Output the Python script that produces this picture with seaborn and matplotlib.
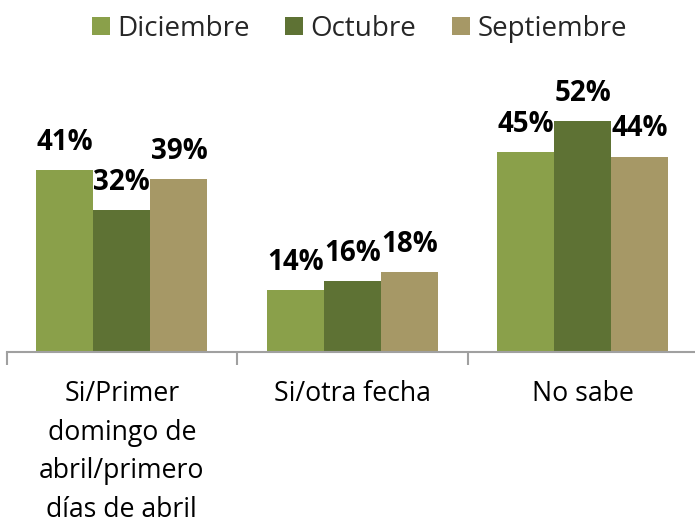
import matplotlib
matplotlib.use("Agg")
import matplotlib.pyplot as plt
import seaborn as sns
import pandas as pd

categories = ["Si/Primer\ndomingo de\nabril/primero\ndías de abril", "Si/otra fecha", "No sabe"]
series = ["Diciembre", "Octubre", "Septiembre"]
diciembre = [41, 14, 45]
octubre = [32, 16, 52]
septiembre = [39, 18, 44]
colors = ["#8AA04A", "#5E7234", "#A69866"]

rows = []
for s, vals in zip(series, [diciembre, octubre, septiembre]):
    for c, v in zip(categories, vals):
        rows.append({"cat": c, "serie": s, "val": v})
df = pd.DataFrame(rows)

sns.set_theme(style="white")
plt.rcParams["font.family"] = ["Open Sans", "DejaVu Sans"]

fig = plt.figure(figsize=(6.95, 5.23), dpi=100)
ax = fig.add_axes([6.6 / 695, 171 / 523, 691.4 / 695, 281 / 523])
sns.barplot(data=df, x="cat", y="val", hue="serie", order=categories,
            hue_order=series, palette=colors, width=0.743, ax=ax,
            saturation=1, legend=True, edgecolor="none", linewidth=0)

ax.set_xlim(-0.5, 2.5)
ax.set_ylim(0, 63.3)
for cont in ax.containers:
    ax.bar_label(cont, labels=[f"{int(v)}%" for v in cont.datavalues],
                 padding=9.5, fontsize=20, fontweight="bold", color="#000000")

for sp in ["top", "left", "right"]:
    ax.spines[sp].set_visible(False)
ax.spines["bottom"].set_color("#A0A0A0")
ax.spines["bottom"].set_linewidth(1.5)
ax.set_yticks([])
ax.set_xlabel("")
ax.set_ylabel("")
ax.set_xticks([0, 1, 2])
ax.set_xticklabels(categories, fontsize=19.2, linespacing=1.5)
ax.tick_params(axis="x", which="major", bottom=False, length=0, pad=20.5, colors="#000000")
ax.set_xticks([-0.5, 0.5, 1.5, 2.5], minor=True)
ax.tick_params(axis="x", which="minor", bottom=True, length=9, width=1.5,
               color="#A0A0A0", direction="out")

handles, labels = ax.get_legend_handles_labels()
ax.legend_.remove()
fig.legend(handles, labels, loc="upper center", bbox_to_anchor=(0.517, 1.02),
           ncol=3, frameon=False, fontsize=20, handlelength=0.65, handleheight=0.65,
           handletextpad=0.25, columnspacing=1.3)

fig.savefig("out.png", dpi=100)
